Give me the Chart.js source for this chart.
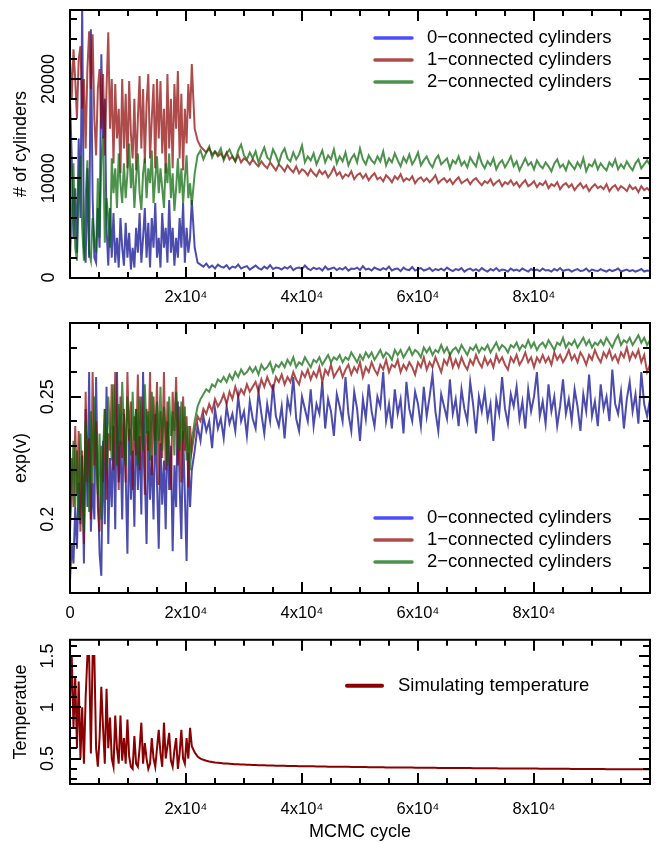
<!DOCTYPE html>
<html><head><meta charset="utf-8">
<script src="https://cdn.jsdelivr.net/npm/chart.js@4/dist/chart.umd.min.js"></script>
<style>
html,body{margin:0;padding:0;background:#fff;}
body{width:665px;height:843px;position:relative;overflow:hidden;}
canvas{position:absolute;left:0;}
</style></head><body>
<canvas id="c1" width="665" height="312" style="top:0px"></canvas>
<canvas id="c2" width="665" height="330" style="top:300px"></canvas>
<canvas id="c3" width="665" height="223" style="top:620px"></canvas>
<script>
// ---------- data ----------
const cycles = [0,300,600,900,1200,1500,1800,2100,2400,2700,
3000,3300,3600,3900,4200,4500,4800,5100,5400,5700,
6000,6300,6600,6900,7200,7500,7800,8100,8400,8700,
9000,9300,9600,9900,10200,10500,10800,11100,11400,11700,
12000,12300,12600,12900,13200,13500,13800,14100,14400,14700,
15000,15300,15600,15900,16200,16500,16800,17100,17400,17700,
18000,18300,18600,18900,19200,19500,19800,20100,20400,20700,
21000,
21500,22000,22500,23000,23500,24000,24500,25000,25500,26000,
26500,27000,27500,28000,28500,29000,29500,30000,30500,31000,
31500,32000,32500,33000,33500,34000,34500,35000,35500,36000,
36500,37000,37500,38000,38500,39000,39500,40000,40500,41000,
41500,42000,42500,43000,43500,44000,44500,45000,45500,46000,
46500,47000,47500,48000,48500,49000,49500,50000,50500,51000,
51500,52000,52500,53000,53500,54000,54500,55000,55500,56000,
56500,57000,57500,58000,58500,59000,59500,60000,60500,61000,
61500,62000,62500,63000,63500,64000,64500,65000,65500,66000,
66500,67000,67500,68000,68500,69000,69500,70000,70500,71000,
71500,72000,72500,73000,73500,74000,74500,75000,75500,76000,
76500,77000,77500,78000,78500,79000,79500,80000,80500,81000,
81500,82000,82500,83000,83500,84000,84500,85000,85500,86000,
86500,87000,87500,88000,88500,89000,89500,90000,90500,91000,
91500,92000,92500,93000,93500,94000,94500,95000,95500,96000,
96500,97000,97500,98000,98500,99000,99500,100000];

const cyl0 = [18000,12000,4000,9000,2500,14000,6000,27500,3000,1500,
11000,2000,25000,8000,2000,1500,7000,3000,22500,14000,
18000,5000,1200,7000,2000,6500,1500,4000,1000,6000,
3000,1200,5500,2000,4500,800,3000,1000,5000,2500,
6500,1500,4000,7000,2000,5500,1000,6000,3000,7500,
2000,4000,1000,6500,3000,5000,1500,7800,2500,5000,
1200,4000,2000,6000,3000,7500,1500,5000,2500,4000,
7800,
3000,1500,1300,1100,1400,1000,1200,900,1300,1100,
1000,1250,850,1100,1000,1300,900,1050,1150,800,
1000,1200,950,800,1100,900,1250,850,1000,950,
800,1050,900,1150,750,950,1000,850,1200,900,
750,1000,850,950,700,1100,800,900,1000,750,
950,800,1050,700,900,850,1000,750,1150,800,
900,700,1000,850,750,950,800,1100,700,850,
900,650,1000,800,750,1050,700,850,950,700,
800,950,650,850,750,900,700,1000,800,650,
850,750,950,600,800,900,700,850,650,950,
750,600,850,700,950,650,800,750,600,900,
700,800,650,900,750,600,850,700,800,650,
900,700,750,600,850,700,950,650,750,800,
600,750,850,650,700,900,600,800,700,650,
850,700,600,800,650,750,900,600,700,800,
650,750,600,700,850,600,700,650];

const cyl1 = [22000,18000,23000,20000,16000,22000,23300,17000,20000,13000,
21000,24800,19000,24500,16000,12300,19000,21000,15000,20500,
12300,19000,24700,15000,20000,11500,19500,14000,17000,10500,
20000,13000,18500,11000,19800,14500,12000,18000,10800,16000,
20300,13000,19000,11500,17500,20500,12000,16000,19500,11000,
20000,14000,19800,12500,17000,10500,20500,13000,18000,11000,
19500,15000,20800,12000,18500,10800,17000,13500,19500,16000,
21500,
15000,13800,13200,12900,12600,13000,12400,12700,12200,12500,
12000,12600,11900,12200,11700,12300,11600,12000,11800,11400,
11900,11500,11200,11700,11300,11000,11600,11200,10800,11400,
11100,10700,11300,10900,10600,11200,10500,10900,10700,10300,
10900,10500,10200,10800,10400,10700,10100,10500,11100,10300,
10600,10000,10400,10200,10700,9900,10300,10500,10000,10400,
9800,10200,10500,9900,10100,9700,10300,10000,9600,10200,
9900,10400,9700,10000,9800,10200,9500,9900,10100,9700,
10000,9600,9900,10300,9500,9800,10000,9600,9900,9400,
9800,10100,9500,9700,9900,9400,9800,10000,9600,9300,
9700,9500,9900,9300,9600,9800,9200,9600,9400,9800,
9300,9600,9100,9500,9800,9200,9400,9700,9100,9500,
9300,9700,9000,9400,9200,9600,8900,9300,9500,9100,
9400,8800,9200,9500,9000,9300,8700,9100,9400,9000,
9200,8900,9400,8700,9100,9300,8800,9200,9000,8700,
9300,8900,9100,8600,9200,8800,9000,8700];

const cyl2 = [2000,6000,11500,3000,1700,9000,12300,5000,1700,8000,
11800,2500,1700,6000,3800,2500,10000,4000,12000,14300,
3500,8000,6000,3000,12000,8500,11000,7000,12500,9500,
7500,11500,8000,10500,13500,9000,11500,7000,10000,12500,
8500,6800,10500,12000,8000,11000,9500,12800,7500,10000,
12200,8500,11000,9000,7000,11500,9500,12500,8000,10500,
6700,9000,12000,8500,11000,7500,10000,12300,8000,9500,
7300,
10500,12300,12800,11900,12600,13200,12100,12700,12400,13000,
11800,12500,12900,12200,11700,12800,13400,12300,11900,12600,
12000,12700,11600,12400,13100,12100,11800,12900,12300,11500,
12500,13000,12000,11700,12600,11900,12400,13300,11600,12200,
11800,12500,11400,12100,12800,11600,12300,11900,12900,11500,
12200,11700,12600,11300,12000,12400,11600,13000,11900,11400,
12300,11800,11500,12200,11700,12700,11300,12000,11600,12500,
11800,11200,12100,11600,12400,11400,11900,12600,11300,11800,
12200,11500,11100,11900,12300,11400,11700,12000,11000,11800,
11500,12200,11300,11700,11100,12100,11600,11200,12400,11500,
11000,11700,11300,12000,10900,11500,11800,11100,11600,12200,
11200,11700,10800,11400,12000,11300,11600,10900,11800,11300,
11000,11600,11200,10700,11500,11900,11100,11400,10800,11700,
11300,10900,11600,11100,12000,10700,11400,11200,11800,10900,
11500,11100,10800,11600,11200,11900,10900,11400,11000,11700,
11200,10800,11500,11900,11000,11400,11800,11300];

const expV0 = [0.175,0.19,0.182,0.205,0.188,0.215,0.198,0.226,0.182,0.245,
0.205,0.26,0.195,0.215,0.2,0.258,0.213,0.186,0.177,0.232,
0.198,0.254,0.19,0.225,0.205,0.238,0.196,0.26,0.215,0.232,
0.2,0.243,0.218,0.186,0.237,0.208,0.228,0.197,0.245,0.212,
0.234,0.202,0.26,0.219,0.19,0.236,0.208,0.226,0.2,0.243,
0.215,0.188,0.231,0.206,0.224,0.196,0.24,0.212,0.23,0.187,
0.222,0.205,0.248,0.214,0.192,0.236,0.21,0.183,0.227,0.205,
0.22,
0.228,0.238,0.232,0.242,0.236,0.24,0.229,0.245,0.237,0.241,
0.233,0.246,0.239,0.243,0.236,0.25,0.24,0.244,0.234,0.248,
0.241,0.237,0.252,0.243,0.235,0.247,0.24,0.255,0.242,0.238,
0.246,0.233,0.249,0.244,0.258,0.241,0.236,0.25,0.245,0.24,
0.253,0.238,0.247,0.243,0.256,0.237,0.249,0.244,0.234,0.251,
0.246,0.24,0.258,0.243,0.236,0.252,0.245,0.232,0.249,0.241,
0.255,0.244,0.238,0.25,0.246,0.26,0.24,0.247,0.237,0.253,
0.243,0.249,0.235,0.256,0.245,0.24,0.252,0.247,0.238,0.254,
0.242,0.25,0.259,0.244,0.236,0.251,0.246,0.241,0.257,0.243,
0.249,0.238,0.253,0.245,0.24,0.256,0.247,0.235,0.25,0.244,
0.252,0.241,0.247,0.232,0.249,0.243,0.258,0.245,0.239,0.251,
0.246,0.254,0.241,0.248,0.237,0.253,0.244,0.25,0.26,0.242,
0.248,0.239,0.255,0.244,0.25,0.238,0.246,0.257,0.243,0.249,
0.24,0.253,0.246,0.236,0.251,0.244,0.259,0.242,0.248,0.238,
0.255,0.245,0.25,0.24,0.261,0.247,0.243,0.252,0.237,0.249,
0.256,0.244,0.251,0.239,0.26,0.247,0.242,0.249];

const expV1 = [0.2,0.225,0.205,0.238,0.21,0.236,0.195,0.228,0.19,0.252,
0.215,0.233,0.2,0.26,0.222,0.24,0.205,0.195,0.23,0.215,
0.245,0.208,0.235,0.228,0.255,0.22,0.26,0.236,0.212,0.25,
0.225,0.245,0.215,0.26,0.232,0.248,0.212,0.242,0.226,0.259,
0.22,0.25,0.236,0.21,0.245,0.228,0.26,0.218,0.25,0.232,
0.256,0.214,0.244,0.225,0.26,0.22,0.248,0.23,0.212,0.252,
0.236,0.258,0.222,0.246,0.215,0.25,0.228,0.242,0.213,0.238,
0.228,
0.236,0.242,0.24,0.245,0.243,0.247,0.244,0.249,0.246,0.248,
0.251,0.247,0.252,0.249,0.254,0.25,0.253,0.251,0.255,0.252,
0.254,0.256,0.252,0.257,0.254,0.258,0.255,0.253,0.258,0.256,
0.259,0.255,0.258,0.256,0.26,0.257,0.255,0.26,0.258,0.261,
0.257,0.26,0.258,0.262,0.256,0.261,0.259,0.263,0.258,0.26,
0.262,0.258,0.261,0.263,0.259,0.262,0.26,0.264,0.258,0.262,
0.26,0.264,0.261,0.259,0.263,0.261,0.265,0.26,0.263,0.262,
0.265,0.26,0.263,0.261,0.264,0.262,0.259,0.264,0.262,0.266,
0.261,0.264,0.262,0.266,0.263,0.26,0.265,0.263,0.267,0.262,
0.265,0.262,0.266,0.263,0.261,0.265,0.263,0.267,0.264,0.262,
0.266,0.263,0.265,0.262,0.267,0.264,0.266,0.263,0.261,0.266,
0.264,0.267,0.263,0.265,0.268,0.264,0.266,0.262,0.266,0.264,
0.267,0.264,0.266,0.263,0.268,0.265,0.267,0.264,0.266,0.269,
0.265,0.267,0.264,0.268,0.266,0.263,0.267,0.265,0.269,0.266,
0.264,0.268,0.266,0.269,0.265,0.267,0.264,0.268,0.266,0.27,
0.265,0.268,0.266,0.269,0.264,0.267,0.26,0.263];

const expV2 = [0.195,0.215,0.232,0.205,0.228,0.2,0.235,0.212,0.195,0.24,
0.22,0.203,0.244,0.215,0.25,0.226,0.21,0.235,0.2,0.228,
0.245,0.22,0.25,0.236,0.224,0.255,0.238,0.222,0.247,0.23,
0.256,0.236,0.222,0.25,0.238,0.226,0.252,0.232,0.245,0.222,
0.25,0.236,0.228,0.255,0.235,0.244,0.224,0.252,0.238,0.226,
0.248,0.232,0.254,0.228,0.246,0.236,0.222,0.25,0.234,0.244,
0.226,0.252,0.236,0.228,0.248,0.232,0.246,0.224,0.238,0.22,
0.232,
0.24,0.246,0.249,0.251,0.253,0.252,0.255,0.254,0.257,0.256,
0.258,0.256,0.259,0.257,0.26,0.258,0.261,0.259,0.26,0.262,
0.26,0.262,0.259,0.263,0.261,0.262,0.264,0.26,0.263,0.262,
0.264,0.262,0.265,0.263,0.266,0.262,0.264,0.263,0.266,0.264,
0.262,0.265,0.264,0.266,0.263,0.265,0.267,0.264,0.266,0.265,
0.267,0.264,0.266,0.265,0.268,0.266,0.264,0.267,0.265,0.268,
0.266,0.268,0.265,0.267,0.269,0.266,0.268,0.267,0.265,0.269,
0.267,0.269,0.266,0.268,0.27,0.267,0.269,0.268,0.266,0.27,
0.268,0.27,0.267,0.269,0.268,0.271,0.268,0.27,0.267,0.269,
0.27,0.268,0.271,0.269,0.267,0.27,0.269,0.271,0.268,0.27,
0.269,0.271,0.268,0.27,0.272,0.269,0.271,0.27,0.268,0.271,
0.27,0.272,0.269,0.271,0.27,0.273,0.27,0.272,0.269,0.271,
0.272,0.27,0.273,0.271,0.269,0.272,0.271,0.274,0.27,0.272,
0.271,0.273,0.27,0.272,0.274,0.271,0.273,0.27,0.272,0.271,
0.273,0.271,0.274,0.272,0.27,0.273,0.275,0.271,0.273,0.272,
0.274,0.271,0.273,0.275,0.272,0.274,0.271,0.273];

const temperature = [1.05,1.5,0.8,1.3,0.6,1.25,0.5,1.0,0.45,1.1,
1.5,1.5,0.55,1.5,1.5,0.6,0.42,0.7,1.2,0.8,
0.45,1.18,0.6,0.9,0.5,0.42,0.92,0.6,0.45,0.92,
0.48,0.7,0.45,0.88,0.52,0.42,0.4,0.72,0.45,0.42,
0.6,0.85,0.45,0.65,0.5,0.4,0.45,0.7,0.5,0.42,
0.6,0.78,0.55,0.42,0.85,0.5,0.62,0.75,0.48,0.42,
0.58,0.7,0.4,0.55,0.78,0.5,0.45,0.7,0.5,0.8,
0.62,
0.56,0.52,0.5,0.488,0.479,0.472,0.467,0.462,0.459,0.456,
0.453,0.451,0.449,0.447,0.445,0.444,0.442,0.441,0.44,0.439,
0.438,0.437,0.436,0.435,0.434,0.433,0.432,0.432,0.431,0.43,
0.43,0.429,0.428,0.428,0.427,0.427,0.426,0.426,0.425,0.425,
0.424,0.424,0.423,0.423,0.422,0.422,0.421,0.421,0.421,0.42,
0.42,0.419,0.419,0.419,0.418,0.418,0.418,0.417,0.417,0.417,
0.416,0.416,0.416,0.415,0.415,0.415,0.414,0.414,0.414,0.413,
0.413,0.413,0.413,0.412,0.412,0.412,0.411,0.411,0.411,0.411,
0.41,0.41,0.41,0.41,0.409,0.409,0.409,0.409,0.408,0.408,
0.408,0.408,0.407,0.407,0.407,0.407,0.406,0.406,0.406,0.406,
0.405,0.405,0.405,0.405,0.405,0.404,0.404,0.404,0.404,0.403,
0.403,0.403,0.403,0.403,0.402,0.402,0.402,0.402,0.402,0.401,
0.401,0.401,0.401,0.401,0.4,0.4,0.4,0.4,0.4,0.4,
0.399,0.399,0.399,0.399,0.399,0.399,0.398,0.398,0.398,0.398,
0.398,0.398,0.397,0.397,0.397,0.397,0.397,0.397,0.397,0.396,
0.396,0.396,0.396,0.396,0.396,0.396,0.395,0.395];

const seriesLabels = ['0\u2212connected cylinders', '1\u2212connected cylinders', '2\u2212connected cylinders'];
const temperatureLabel = 'Simulating temperature';

// tick values and labels
const xTickValues = [0, 20000, 40000, 60000, 80000];
const xTickLabels = ['0', '2x10\u2074', '4x10\u2074', '6x10\u2074', '8x10\u2074'];
const yTicksCyl = [0, 10000, 20000];
const yLabelsCyl = ['0', '10000', '20000'];
const yTicksExp = [0.2, 0.25];
const yLabelsExp = ['0.2', '0.25'];
const yTicksTemp = [0.5, 1, 1.5];
const yLabelsTemp = ['0.5', '1', '1.5'];

// ---------- styling ----------
const FONT = '"Liberation Sans", Arial, Helvetica, sans-serif';
const lineColors = ['rgba(0,0,139,0.7)', 'rgba(139,0,0,0.7)', 'rgba(0,100,0,0.7)'];
const legendColors = ['rgba(0,0,255,0.7)', 'rgba(139,0,0,0.7)', 'rgba(0,100,0,0.7)'];
const tempColor = '#8b0000';

const framePlugin = {
  id: 'frameTicks',
  afterDatasetsDraw(chart, args, o) {
    const {ctx, chartArea: a, scales: {x, y}} = chart;
    ctx.save();
    ctx.strokeStyle = '#000';
    ctx.lineWidth = 2;
    ctx.lineCap = 'butt';
    ctx.beginPath();
    const near = (arr, v, tol) => arr.some(t => Math.abs(t - v) < tol);
    const kx0 = Math.ceil(x.min / o.xStep - 1e-9), kx1 = Math.floor(x.max / o.xStep + 1e-9);
    for (let k = kx0; k <= kx1; k++) {
      const v = k * o.xStep;
      const px = Math.round(x.getPixelForValue(v));
      if (px <= a.left + 1 || px >= a.right - 1) continue;
      const len = near(o.xMajor, v, o.xStep / 10) ? 11 : 6;
      ctx.moveTo(px, a.bottom); ctx.lineTo(px, a.bottom - len);
      ctx.moveTo(px, a.top); ctx.lineTo(px, a.top + len);
    }
    const ky0 = Math.ceil(y.min / o.yStep - 1e-9), ky1 = Math.floor(y.max / o.yStep + 1e-9);
    for (let k = ky0; k <= ky1; k++) {
      const v = k * o.yStep;
      const py = Math.round(y.getPixelForValue(v));
      if (py <= a.top + 1 || py >= a.bottom - 1) continue;
      const len = near(o.yMajor, v, o.yStep / 10) ? 11 : 7;
      ctx.moveTo(a.left, py); ctx.lineTo(a.left + len, py);
      ctx.moveTo(a.right, py); ctx.lineTo(a.right - len, py);
    }
    ctx.stroke();
    ctx.strokeRect(a.left, a.top, a.right - a.left, a.bottom - a.top);
    ctx.restore();
  }
};

const legendPlugin = {
  id: 'innerLegend',
  afterDatasetsDraw(chart, args, o) {
    const {ctx, chartArea: a} = chart;
    ctx.save();
    ctx.font = o.fontSize + 'px ' + FONT;
    ctx.textBaseline = 'middle';
    ctx.textAlign = 'left';
    o.items.forEach((it, i) => {
      const yy = a.top + o.top + i * o.gap;
      ctx.strokeStyle = it.color;
      ctx.lineWidth = o.lineWidth;
      ctx.lineCap = 'round';
      ctx.beginPath();
      ctx.moveTo(a.left + o.x0, yy);
      ctx.lineTo(a.left + o.x1, yy);
      ctx.stroke();
      ctx.fillStyle = '#000';
      ctx.fillText(it.text, a.left + o.tx, yy);
    });
    ctx.restore();
  }
};

function series(values) {
  return cycles.map((c, i) => ({x: c, y: values[i]}));
}

function makeChart(id, cfg) {
  const xVals = cfg.xZero ? xTickValues : xTickValues.slice(1);
  const xLabs = cfg.xZero ? xTickLabels : xTickLabels.slice(1);
  return new Chart(document.getElementById(id), {
    type: 'line',
    data: {datasets: cfg.datasets},
    options: {
      responsive: false,
      animation: false,
      devicePixelRatio: 1,
      layout: {padding: {top: cfg.padTop, right: 15, left: 0, bottom: 0}},
      elements: {point: {radius: 0}, line: {tension: 0, borderWidth: 2}},
      plugins: {
        legend: {display: false},
        tooltip: {enabled: false},
        frameTicks: {xStep: 5000, xMajor: xTickValues, yStep: cfg.yStep, yMajor: cfg.yTicks},
        innerLegend: cfg.legend
      },
      scales: {
        x: {
          type: 'linear', min: 0, max: 100000,
          grid: {display: false, drawTicks: false},
          border: {display: false},
          afterBuildTicks: s => { s.ticks = xVals.map(v => ({value: v})); },
          afterFit: s => { s.height = cfg.xHeight; },
          ticks: {
            autoSkip: false, maxRotation: 0, minRotation: 0,
            padding: cfg.xPad, color: '#000',
            font: {family: FONT, size: 16.5},
            callback: (v, i) => xLabs[i]
          },
          title: cfg.xTitle ? {display: true, text: cfg.xTitle, color: '#000',
            font: {family: FONT, size: 18}, padding: {top: 0, bottom: 0}} : {display: false}
        },
        y: {
          type: 'linear', min: cfg.yMin, max: cfg.yMax,
          grid: {display: false, drawTicks: false},
          border: {display: false},
          afterBuildTicks: s => { s.ticks = cfg.yTicks.map(v => ({value: v})); },
          afterFit: s => { s.width = 70; },
          ticks: {
            autoSkip: false, minRotation: 90, maxRotation: 90, crossAlign: 'center',
            padding: cfg.yPad, color: '#000',
            font: {family: FONT, size: 18},
            callback: (v, i) => cfg.yLabels[i]
          },
          title: {display: true, text: cfg.yTitle, color: '#000',
            font: {family: FONT, size: 18}, padding: {top: 10, bottom: 0}}
        }
      }
    },
    plugins: [framePlugin, legendPlugin]
  });
}

const cylDatasets = (arrs) => arrs.map((arr, i) => ({
  label: seriesLabels[i], data: series(arr), borderColor: lineColors[i],
  borderWidth: 2, pointRadius: 0, fill: false, order: 3 - i
}));

makeChart('c1', {
  datasets: cylDatasets([cyl0, cyl1, cyl2]),
  padTop: 10, xHeight: 34, xPad: 10, xZero: false,
  yMin: -50, yMax: 26950, yTicks: yTicksCyl, yLabels: yLabelsCyl, yStep: 2000, yPad: -4,
  yTitle: '# of cylinders',
  legend: {items: seriesLabels.map((t, i) => ({text: t, color: legendColors[i]})),
    top: 28, gap: 22, x0: 305, x1: 342, tx: 357, fontSize: 18.5, lineWidth: 3.5}
});

makeChart('c2', {
  datasets: cylDatasets([expV0, expV1, expV2]),
  padTop: 23, xHeight: 37, xPad: 11, xZero: true,
  yMin: 0.17, yMax: 0.28, yTicks: yTicksExp, yLabels: yLabelsExp, yStep: 0.01, yPad: 4,
  yTitle: 'exp(v)',
  legend: {items: seriesLabels.map((t, i) => ({text: t, color: legendColors[i]})),
    top: 195, gap: 22, x0: 305, x1: 342, tx: 357, fontSize: 18.5, lineWidth: 3.5}
});

makeChart('c3', {
  datasets: [{label: temperatureLabel, data: series(temperature), borderColor: tempColor,
    borderWidth: 2, pointRadius: 0, fill: false}],
  padTop: 17, xHeight: 59, xPad: 16, xZero: false, xTitle: 'MCMC cycle',
  yMin: 0.252, yMax: 1.658, yTicks: yTicksTemp, yLabels: yLabelsTemp, yStep: 0.1, yPad: 9,
  yTitle: 'Temperatue',
  legend: {items: [{text: temperatureLabel, color: tempColor}],
    top: 46, gap: 22, x0: 277, x1: 312, tx: 328, fontSize: 18.5, lineWidth: 4}
});
</script>
</body></html>
